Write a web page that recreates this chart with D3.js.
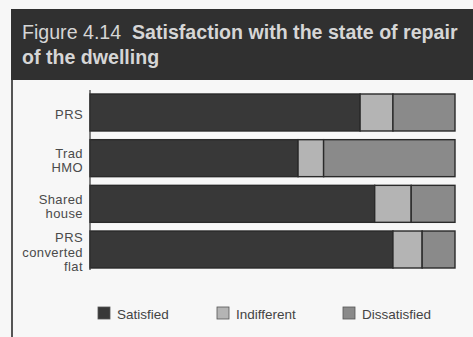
<!DOCTYPE html>
<html>
<head>
<meta charset="utf-8">
<script src="https://cdn.jsdelivr.net/npm/d3@7"></script>
<style>
  html, body { margin: 0; padding: 0; background: #f7f7f7; }
  svg { display: block; }
</style>
</head>
<body>
<svg id="chart" width="473" height="337"></svg>
<script>
// Dwelling types and the share of residents (%) in each satisfaction group
const categories = ["PRS", "Trad HMO", "Shared house", "PRS converted flat"];
const categoryLines = [["PRS"], ["Trad", "HMO"], ["Shared", "house"], ["PRS", "converted", "flat"]];
const seriesNames = ["Satisfied", "Indifferent", "Dissatisfied"];
const satisfied = [74, 57, 78, 83];
const indifferent = [9, 7, 10, 8];
const dissatisfied = [17, 36, 12, 9];

const colors = { Satisfied: "#383838", Indifferent: "#b4b4b4", Dissatisfied: "#8a8a8a" };
const FONT = "Liberation Sans, Arial, sans-serif";

const svg = d3.select("#chart");
const W = 473, H = 337;

svg.append("rect").attr("width", W).attr("height", H).attr("fill", "#f7f7f7");

// Title banner
svg.append("rect").attr("x", 11).attr("y", 9).attr("width", W - 11).attr("height", 71)
  .attr("fill", "#303030");
const title = svg.append("text").attr("y", 38.5)
  .attr("font-family", FONT).attr("font-size", 19.6)
  .attr("fill", "#d6d6d6");
title.append("tspan").attr("x", 22).text("Figure 4.14");
title.append("tspan").attr("x", 132).attr("font-weight", "bold")
  .text("Satisfaction with the state of repair");
svg.append("text").attr("x", 22).attr("y", 64)
  .attr("font-family", FONT).attr("font-size", 19.6)
  .attr("font-weight", "bold").attr("fill", "#d6d6d6").text("of the dwelling");

// Frame line on the left
svg.append("line").attr("x1", 12).attr("x2", 12).attr("y1", 80).attr("y2", H)
  .attr("stroke", "#555").attr("stroke-width", 2);

const x = d3.scaleLinear().domain([0, 100]).range([90, 455]);
const y = d3.scaleBand().domain(categories).range([94, 268]).paddingInner(0.19).paddingOuter(0);

const rows = categories.map((c, i) => ({
  category: c, Satisfied: satisfied[i], Indifferent: indifferent[i], Dissatisfied: dissatisfied[i]
}));
const stacked = d3.stack().keys(seriesNames)(rows);

const g = svg.append("g");
g.selectAll("g.series").data(stacked).join("g").attr("class", "series")
  .attr("fill", d => colors[d.key])
  .selectAll("rect").data(d => d).join("rect")
  .attr("x", d => x(d[0]))
  .attr("y", d => y(d.data.category))
  .attr("width", d => x(d[1]) - x(d[0]))
  .attr("height", y.bandwidth())
  .attr("stroke", "#2a2a2a").attr("stroke-width", 1.4);

// Category axis
svg.append("line").attr("x1", 90).attr("x2", 90).attr("y1", 90).attr("y2", 270)
  .attr("stroke", "#333").attr("stroke-width", 1.2);

const labels = svg.append("g").attr("font-family", FONT)
  .attr("font-size", 13).attr("letter-spacing", 0.4)
  .attr("fill", "#4a4a4a").attr("text-anchor", "end");
categories.forEach((c, i) => {
  const lines = categoryLines[i];
  const cy = y(c) + y.bandwidth() / 2;
  const lh = 14.5;
  const t = labels.append("text").attr("x", 83);
  lines.forEach((ln, j) => {
    t.append("tspan").attr("x", 83)
      .attr("y", cy + 7 + (j - (lines.length - 1) / 2) * lh)
      .text(ln);
  });
});

// Legend
const legendX = [98, 217, 343];
const legend = svg.append("g").attr("font-family", FONT)
  .attr("font-size", 13.5).attr("fill", "#444");
seriesNames.forEach((s, i) => {
  legend.append("rect").attr("x", legendX[i]).attr("y", 307).attr("width", 12).attr("height", 12)
    .attr("fill", colors[s]).attr("stroke", "#555").attr("stroke-width", 0.8);
  legend.append("text").attr("x", legendX[i] + 19).attr("y", 318.5).text(s);
});
</script>
</body>
</html>
